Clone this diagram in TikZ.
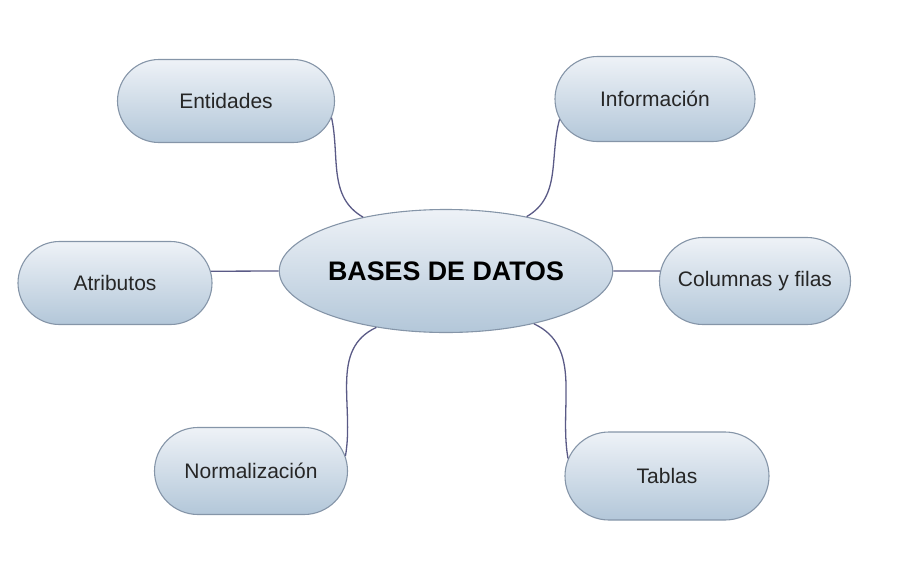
\documentclass[tikz,border=0pt]{standalone}
\usepackage{fontspec}
\setmainfont{Liberation Sans}
\usetikzlibrary{shapes,positioning}
\definecolor{nodetop}{HTML}{EEF2F7}
\definecolor{nodebot}{HTML}{B3C7D9}
\definecolor{nodeline}{HTML}{8595A8}
\definecolor{linkcol}{HTML}{5A5A86}
\begin{document}
\begin{tikzpicture}[x=0.5pt, y=-0.5pt, link/.style={draw=linkcol,line width=0.65pt},
idea node/.style={rounded rectangle,draw=nodeline,line width=0.55pt,top color=nodetop,bottom color=nodebot,inner sep=0pt,font=\fontsize{10.5}{12}\selectfont,text=black!85},
main idea/.style={ellipse,draw=nodeline,line width=0.55pt,top color=nodetop,bottom color=nodebot,inner sep=0pt,minimum width=164pt,minimum height=61.5pt,font=\fontsize{13.4}{15}\selectfont\bfseries}]
\useasboundingbox (0,0) rectangle (911,568);
\begin{scope}
\node[main idea] (bd) at (446,271) {BASES DE DATOS};
\node[idea node,minimum width=108.5pt,minimum height=41.5pt] (ent) at (226,101) {Entidades};
\node[idea node,minimum width=100pt,minimum height=42.5pt] (inf) at (655,99) {Información};
\node[idea node,minimum width=97pt,minimum height=41.5pt] (atr) at (115,283) {Atributos};
\node[idea node,minimum width=95.5pt,minimum height=43.5pt] (col) at (755,281) {Columnas y filas};
\node[idea node,minimum width=96.5pt,minimum height=43.5pt] (nor) at (251,471) {Normalización};
\node[idea node,minimum width=102pt,minimum height=44pt] (tab) at (667,476) {Tablas};
\end{scope}
\begin{scope}[on background layer/.try]
\draw[link] (ent.-9) to[out=-78,in=150] (bd.147);
\draw[link] (inf.192) to[out=-105,in=30] (bd.34);
\draw[link] (atr.7) -- (bd.180);
\draw[link] (col.174) -- (bd.0);
\draw[link] (bd.-141) to[out=-155,in=80] (nor.9.6);
\draw[link] (bd.-31) to[out=-25,in=100] (tab.170);
\end{scope}
\end{tikzpicture}
\end{document}
